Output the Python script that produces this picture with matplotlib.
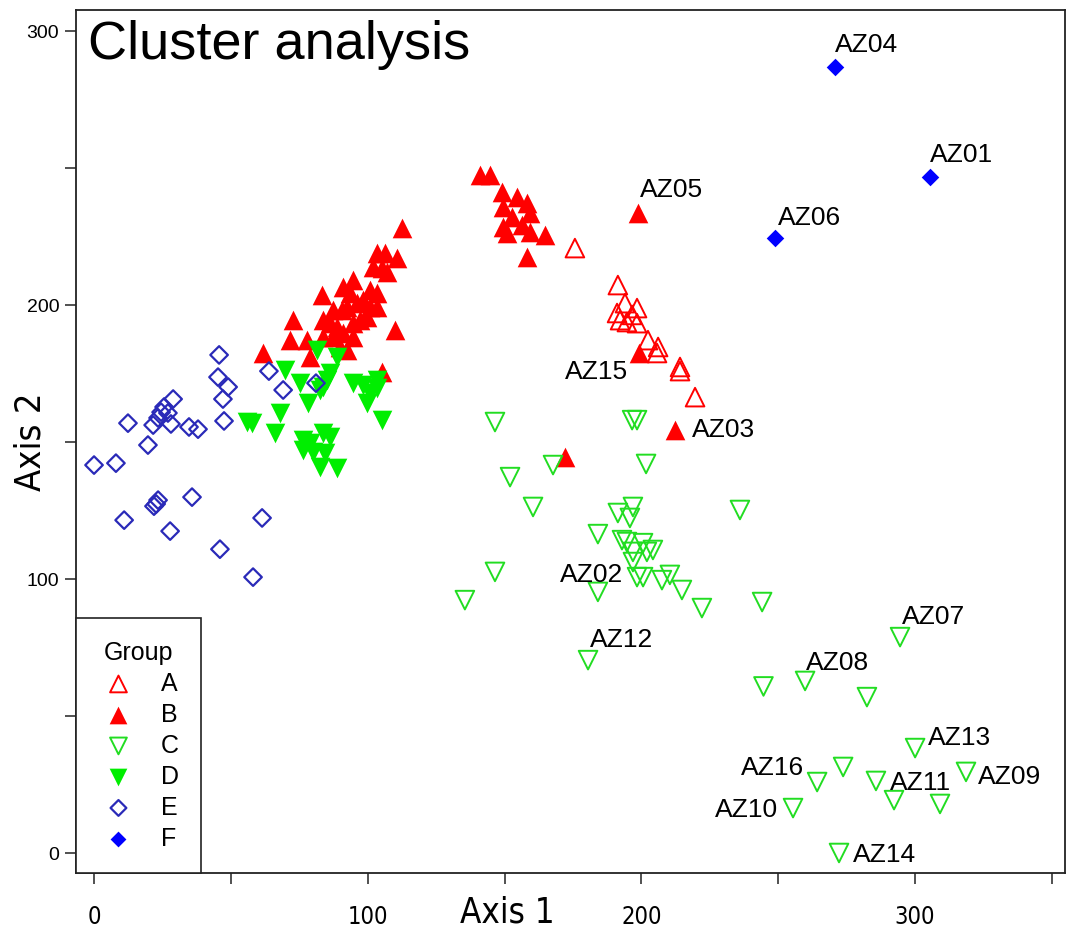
import numpy as np
import matplotlib.pyplot as plt

# Grupo A (triângulos abertos vermelhos)
a_x = [175.7, 191.4, 194.0, 198.4, 191.1, 196.6, 192.2, 194.7, 198.4, 202.4, 206.1, 205.7, 214.1, 214.1, 219.6]
a_y = [220.8, 207.3, 200.7, 198.9, 197.1, 196.4, 194.5, 193.8, 193.4, 187.2, 184.7, 182.5, 177.4, 175.9, 166.4]

# Grupo B (triângulos cheios vermelhos)
b_x = [141.0, 144.7, 149.1, 154.5, 158.2, 149.4, 152.7, 159.3, 149.4, 156.4, 150.9, 159.3, 164.8, 158.2, 198.8,
       112.5, 103.4, 106.3, 110.7, 101.9, 105.2, 107.1, 94.6, 91.0, 100.8, 103.4, 83.3, 93.5, 87.3, 90.6,
       92.4, 96.1, 98.3, 100.8, 103.4, 72.7, 83.7, 86.2, 88.8, 94.6, 97.2, 99.7, 71.6, 77.8, 83.7,
       87.3, 91.0, 94.6, 110.0, 61.7, 78.9, 89.9, 92.4, 105.2, 199.1, 212.3, 172.1]
b_y = [247.4, 247.4, 241.2, 239.4, 237.2, 235.8, 232.1, 233.6, 228.5, 229.2, 226.3, 226.6, 225.5, 217.5, 233.6,
       228.1, 219.0, 219.0, 217.2, 213.9, 213.5, 212.0, 209.1, 206.6, 205.5, 204.4, 203.6, 204.4, 198.2, 198.2,
       199.3, 200.7, 201.8, 199.3, 199.3, 194.5, 194.5, 193.4, 192.0, 193.4, 194.5, 195.6, 187.2, 187.2, 188.3,
       188.3, 189.8, 188.3, 190.9, 182.5, 181.0, 184.7, 183.6, 175.5, 182.5, 154.4, 144.5]

# Grupo C (triângulos invertidos abertos verdes)
c_x = [146.5, 196.6, 198.4, 167.7, 152.0, 201.7, 160.4, 191.4, 196.9, 195.8, 236.0, 184.1, 192.9, 194.7, 196.9,
       200.6, 202.0, 204.2, 196.9, 198.4, 200.6, 207.5, 210.4, 214.8, 222.1, 244.1, 146.5, 135.5, 184.1, 180.5,
       244.6, 294.5, 259.8, 282.4, 300.0, 273.7, 264.2, 285.7, 318.6, 292.3, 309.1, 255.4, 272.2]
c_y = [157.3, 158.0, 158.0, 141.6, 137.2, 142.0, 126.3, 124.1, 126.3, 122.3, 125.2, 116.4, 114.2, 113.5, 109.9,
       113.1, 109.9, 110.6, 106.2, 100.7, 100.7, 99.6, 101.5, 96.0, 89.4, 91.6, 102.6, 92.3, 95.3, 70.4,
       60.8, 78.8, 62.8, 56.9, 38.3, 31.4, 25.9, 26.3, 29.6, 19.3, 17.9, 16.4, 0.0]

# Grupo D (triângulos invertidos cheios verdes)
d_x = [81.5, 88.8, 69.8, 75.3, 86.2, 85.1, 83.7, 82.6, 78.2, 94.6, 98.3, 100.8, 99.7, 103.4, 103.4,
       105.2, 55.9, 57.7, 68.0, 66.1, 76.4, 78.9, 83.7, 86.2, 76.4, 80.0, 84.4, 82.6, 88.8]
d_y = [183.6, 181.0, 176.3, 171.5, 175.2, 172.6, 170.1, 169.0, 164.2, 171.5, 170.8, 167.9, 164.2, 172.6, 169.7,
       158.0, 157.3, 156.9, 160.6, 153.3, 150.7, 149.6, 153.3, 151.8, 147.1, 146.4, 146.0, 140.9, 140.5]

# Grupo E (losangos abertos azuis)
e_x = [45.7, 45.3, 49.0, 47.1, 47.5, 28.9, 25.6, 24.5, 27.0, 23.4, 21.6, 28.1, 12.4, 19.7, 34.7,
       38.0, 0.0, 8.0, 23.4, 22.7, 21.9, 35.8, 11.0, 27.8, 61.4, 46.0, 58.1, 63.9, 69.1, 81.1]
e_y = [181.8, 173.7, 170.1, 165.7, 157.7, 165.7, 162.8, 160.9, 160.6, 158.8, 156.2, 156.6, 156.9, 148.9, 155.5,
       154.7, 141.6, 142.3, 128.8, 127.4, 126.6, 129.9, 121.5, 117.5, 122.3, 110.9, 100.7, 175.9, 169.0, 171.5]

# Grupo F (losangos cheios azuis)
f_x = [270.7, 305.5, 248.8]
f_y = [286.9, 246.7, 224.5]

# Rótulos das amostras
lab_names = ['AZ04', 'AZ01', 'AZ05', 'AZ06', 'AZ15', 'AZ03', 'AZ02', 'AZ12',
             'AZ07', 'AZ08', 'AZ13', 'AZ16', 'AZ11', 'AZ09', 'AZ10', 'AZ14']
lab_x = [270.7, 305.4, 199.5, 249.9, 172.1, 218.5, 170.3, 181.2,
         295.2, 260.1, 304.7, 236.4, 290.8, 323.0, 226.9, 277.3]
lab_y = [294.9, 254.7, 242.0, 231.8, 175.5, 154.4, 101.5, 77.7,
         86.1, 69.3, 42.0, 31.0, 25.5, 27.7, 15.7, -0.7]

red = '#ff0000'
green = '#00ee00'
green_open = '#22dd22'
blue_open = '#2a2ab8'
blue = '#0000ff'
narrow = dict(family='DejaVu Sans', stretch='condensed')

fig = plt.figure(figsize=(10.67, 9.35), dpi=100)
ax = fig.add_axes([0.0712, 0.0663, 0.927, 0.923])

ax.scatter(a_x, a_y, marker='^', s=180, facecolors='none', edgecolors=red, linewidths=1.4, label='A', zorder=3)
ax.scatter(b_x, b_y, marker='^', s=200, color=red, linewidths=0, label='B', zorder=3)
ax.scatter(c_x, c_y, marker='v', s=180, facecolors='none', edgecolors=green_open, linewidths=1.4, label='C', zorder=3)
ax.scatter(d_x, d_y, marker='v', s=200, color=green, linewidths=0, label='D', zorder=3)
ax.scatter(e_x, e_y, marker='D', s=80, facecolors='none', edgecolors=blue_open, linewidths=1.6, label='E', zorder=3)
ax.scatter(f_x, f_y, marker='D', s=80, color=blue, linewidths=0, label='F', zorder=3)

for name, x, y in zip(lab_names, lab_x, lab_y):
    ax.text(x, y, name, fontsize=19, family='Liberation Sans', va='center', ha='left', zorder=4)

ax.text(0.012, 0.988, 'Cluster analysis', transform=ax.transAxes, fontsize=39,
        family='Liberation Sans', va='top', ha='left')

ax.set_xlim(-6.6, 354.8)
ax.set_ylim(-7.3, 307.7)
ax.set_xticks([0, 100, 200, 300])
ax.set_xticks([50, 150, 250, 350], minor=True)
ax.set_yticks([0, 100, 200, 300])
ax.set_yticks([50, 150, 250], minor=True)
ax.tick_params(which='both', direction='out', length=8, width=1.2, color='#333333')
ax.tick_params(axis='x', pad=15, labelsize=16)
ax.tick_params(axis='y', pad=4, labelsize=14)
for lbl in ax.get_xticklabels():
    lbl.set_fontproperties(narrow)
    lbl.set_fontsize(17)
for lbl in ax.get_yticklabels():
    lbl.set_family('Liberation Sans')
for sp in ax.spines.values():
    sp.set_linewidth(1.3)
    sp.set_color('#222222')

ax.set_xlabel('Axis 1', fontsize=25, **narrow)
ax.xaxis.set_label_coords(0.436, -0.026)
ax.set_ylabel('Axis 2', fontsize=26, **narrow)
ax.yaxis.set_label_coords(-0.029, 0.5)

leg = ax.legend(title='Group', loc='lower left', borderaxespad=0, fancybox=False,
                edgecolor='#222222', framealpha=1, title_fontsize=18,
                markerscale=0.9, handletextpad=0.9, labelspacing=0.28, borderpad=0.9,
                handlelength=1.6, prop={'family': 'Liberation Sans', 'size': 18})
leg.get_frame().set_linewidth(1.2)
leg.get_title().set_family('Liberation Sans')

plt.savefig('out.png', dpi=100)
